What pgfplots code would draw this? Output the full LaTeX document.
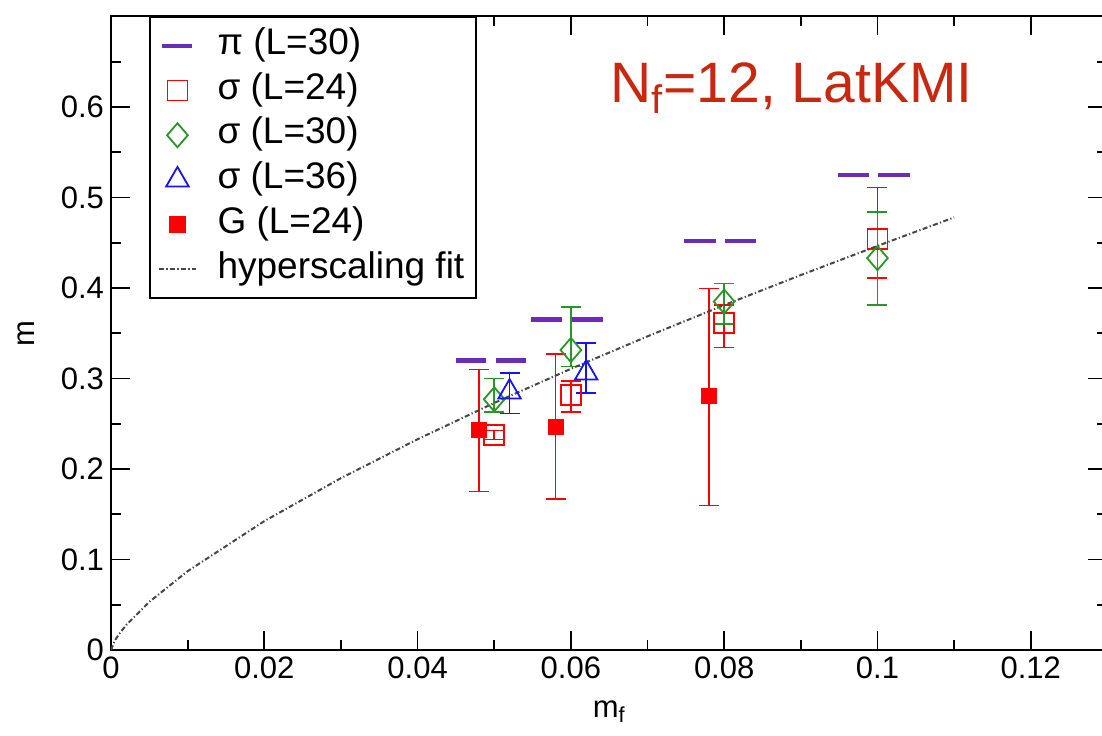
\documentclass[border=0pt]{standalone}
\usepackage{fontspec}
\setmainfont{Liberation Sans}
\usepackage{pgfplots}
\pgfplotsset{compat=1.18}
\definecolor{cpi}{RGB}{107,45,185}
\definecolor{cred}{RGB}{255,0,0}
\definecolor{cgreen}{RGB}{40,150,40}
\definecolor{cblue}{RGB}{20,20,245}
\definecolor{ctitle}{RGB}{200,40,15}
\definecolor{cfit}{RGB}{70,70,70}
\pgfplotsset{
  mk/.style={legend image code/.code={\path (0pt,0pt) (18.5pt,0pt); \draw[##1] plot coordinates {(9.25pt,0pt)};}},
  lnimg/.style={legend image code/.code={\draw[##1] (9.25pt-#1,0pt) -- (9.25pt+#1,0pt);}},
  ebar/.style={error bars/.cd, y dir=both, y explicit,
     error bar style={line width=0.75pt, #1},
     error mark options={rotate=90, mark size=5pt, line width=0.75pt, #1}},
}
\begin{document}
\begin{tikzpicture}
\begin{axis}[
  scale only axis, width=498.2pt, height=316.75pt,
  xmin=0, xmax=0.13, ymin=0, ymax=0.7,
  xtick={0,0.02,0.04,0.06,0.08,0.1,0.12},
  minor xtick={0.01,0.03,0.05,0.07,0.09,0.11},
  xticklabels={0,0.02,0.04,0.06,0.08,0.1,0.12},
  ytick={0,0.1,0.2,0.3,0.4,0.5,0.6},
  minor ytick={0.05,0.15,0.25,0.35,0.45,0.55,0.65},
  yticklabels={0,0.1,0.2,0.3,0.4,0.5,0.6},
  major tick length=9.5pt, minor tick length=5pt,
  every tick/.style={black, line width=0.9pt},
  axis line style={line width=1pt},
  tick label style={font=\fontsize{15.5}{18}\selectfont},
  label style={font=\fontsize{15.5}{18}\selectfont},
  /pgf/number format/assume math mode=true,
  xlabel={m\textsubscript{f}},
  ylabel={m},
  xlabel style={at={(axis description cs:0.5,0)}, anchor=base, yshift=-33.5pt},
  ylabel style={at={(axis description cs:-0.0853,0.5)}, anchor=center},
  unbounded coords=jump,
  legend cell align=left,
  legend style={at={(0.0381,1)}, anchor=north west, draw=black, line width=1pt,
    font=\fontsize{18.5}{22}\selectfont, inner xsep=4pt, inner ysep=3pt,
    nodes={inner xsep=2pt, inner ysep=2pt, text height=13.5pt, text depth=4.85pt},
    /tikz/every odd column/.append style={column sep=8.3pt}},
]
% pi (L=30)
\addplot[cpi, line width=2.3pt, lnimg=7.5pt] coordinates {
  (0.0450,0.320) (0.0489,0.320) (0.0495,nan) (0.0502,0.320) (0.0541,0.320) (0.0545,nan)
  (0.0548,0.365) (0.0589,0.365) (0.0595,nan) (0.0600,0.365) (0.0642,0.365) (0.0645,nan)
  (0.0748,0.452) (0.0789,0.452) (0.0795,nan) (0.0801,0.452) (0.0842,0.452) (0.0845,nan)
  (0.0948,0.525) (0.0989,0.525) (0.0995,nan) (0.1001,0.525) (0.1042,0.525)
};
\addlegendentry{π (L=30)}
% sigma L=24
\addplot[cred, only marks, mark=square, mark size=5pt, mark options={line width=0.9pt, fill=none}, mk, ebar=cred]
coordinates {
  (0.050,0.2376) += (0,0.005) -= (0,0.005)
  (0.060,0.282) += (0,0.015) -= (0,0.019)
  (0.080,0.361) += (0,0.020) -= (0,0.027)
  (0.100,0.454) += (0,0.057) -= (0,0.043)
};
\addlegendentry{σ (L=24)}
% sigma L=30
\addplot[cgreen, only marks, mark=diamond, mark size=6pt, mark options={line width=0.9pt, fill=none, xscale=1.15}, mk, ebar=cgreen]
coordinates {
  (0.050,0.277) += (0,0.023) -= (0,0.014)
  (0.060,0.3315) += (0,0.0475) -= (0,0.0185)
  (0.080,0.385) += (0,0.020) -= (0,0.025)
  (0.100,0.433) += (0,0.051) -= (0,0.052)
};
\addlegendentry{σ (L=30)}
% sigma L=36
\addplot[cblue, only marks, mark=triangle, mark size=6.5pt, mark options={line width=0.9pt, fill=none}, mk, ebar=cblue]
coordinates {
  (0.052,0.285) += (0,0.021) -= (0,0.0235)
  (0.062,0.306) += (0,0.033) -= (0,0.022)
};
\addlegendentry{σ (L=36)}
% G L=24
\addplot[cred, only marks, mark=square*, mark size=3.75pt, mark options={fill=cred, draw=cred}, mk, ebar=cred]
coordinates {
  (0.048,0.243) += (0,0.067) -= (0,0.068)
  (0.058,0.247) += (0,0.080) -= (0,0.080)
  (0.078,0.2807) += (0,0.119) -= (0,0.121)
};
\addlegendentry{G (L=24)}
% hyperscaling fit
\addplot[cfit, line width=1pt, dash pattern=on 2.5pt off 1.2pt on 0.6pt off 1.2pt, lnimg=9.25pt]
coordinates {
  (0,0) (0.0005,0.0104) (0.001,0.0170) (0.002,0.0278) (0.005,0.0532) (0.01,0.0871)
  (0.02,0.1424) (0.03,0.1899) (0.04,0.2329) (0.05,0.2730) (0.06,0.3107)
  (0.07,0.3466) (0.08,0.3811) (0.09,0.4143) (0.10,0.4465) (0.11,0.478)
};
\addlegendentry{hyperscaling fit}
\node[anchor=base west, inner sep=0pt, text=ctitle, font=\fontsize{28.5}{34}\selectfont]
  at (axis cs:0.0651,0.6055) {N\textsubscript{f}=12, LatKMI};
\end{axis}
\pgfresetboundingbox
\path[use as bounding box] ([shift={(-55.5pt,-42.5pt)}]current axis.south west)
  rectangle ([shift={(495.5pt,325pt)}]current axis.south west);
\end{tikzpicture}
\end{document}
